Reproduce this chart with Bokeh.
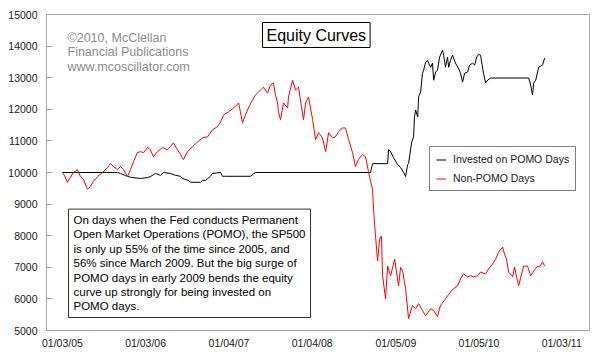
import pandas as pd
from bokeh.plotting import figure
from bokeh.models import (Range1d, FixedTicker, DatetimeTickFormatter, Label,
                          Legend, LegendItem, ColumnDataSource)
from bokeh.embed import file_html
from bokeh.resources import INLINE

# ---------------- data ----------------
red_dates = [
    "2005-01-03", "2005-01-12", "2005-01-25", "2005-02-07", "2005-02-20", "2005-03-10",
    "2005-03-23", "2005-04-05", "2005-04-23", "2005-05-06", "2005-05-19", "2005-06-06",
    "2005-06-28", "2005-07-20", "2005-08-02", "2005-08-15", "2005-09-02", "2005-09-15",
    "2005-09-28", "2005-10-15", "2005-10-29", "2005-11-11", "2005-11-28", "2005-12-11",
    "2005-12-25", "2006-01-11", "2006-01-24", "2006-02-06", "2006-02-24", "2006-03-18",
    "2006-04-09", "2006-04-22", "2006-05-05", "2006-05-23", "2006-06-05", "2006-06-18",
    "2006-07-06", "2006-07-28", "2006-08-19", "2006-09-10", "2006-10-02", "2006-10-23",
    "2006-11-14", "2006-11-28", "2006-12-11", "2007-01-02", "2007-01-24", "2007-02-15",
    "2007-02-23", "2007-03-04", "2007-03-17", "2007-03-30", "2007-04-17", "2007-04-30",
    "2007-05-22", "2007-06-04", "2007-06-22", "2007-07-05", "2007-07-18", "2007-07-27",
    "2007-08-05", "2007-08-09", "2007-08-18", "2007-08-31", "2007-09-18", "2007-09-22",
    "2007-10-10", "2007-10-23", "2007-11-05", "2007-11-18", "2007-11-27", "2007-12-06",
    "2007-12-19", "2008-01-06", "2008-01-19", "2008-02-01", "2008-02-18", "2008-03-03",
    "2008-03-16", "2008-04-02", "2008-04-15", "2008-04-29", "2008-05-16", "2008-05-29",
    "2008-06-12", "2008-06-29", "2008-07-12", "2008-07-25", "2008-08-12", "2008-08-25",
    "2008-09-07", "2008-09-16", "2008-09-25", "2008-09-29", "2008-10-08", "2008-10-17",
    "2008-10-26", "2008-11-03", "2008-11-08", "2008-11-21", "2008-11-30", "2008-12-13",
    "2008-12-31", "2009-01-17", "2009-01-26", "2009-02-04", "2009-02-17", "2009-03-02",
    "2009-03-19", "2009-04-02", "2009-04-15", "2009-05-02", "2009-05-16", "2009-06-07",
    "2009-06-20", "2009-07-07", "2009-07-20", "2009-08-11", "2009-09-02", "2009-09-15",
    "2009-10-03", "2009-10-16", "2009-10-29", "2009-11-16", "2009-11-29", "2009-12-12",
    "2009-12-30", "2010-01-12", "2010-02-03", "2010-02-16", "2010-03-06", "2010-03-19",
    "2010-04-01", "2010-04-19", "2010-04-27", "2010-05-06", "2010-05-15", "2010-06-02",
    "2010-06-10", "2010-06-23", "2010-06-28", "2010-07-11", "2010-07-20", "2010-08-06",
    "2010-08-20", "2010-09-02", "2010-09-19", "2010-09-28", "2010-10-11", "2010-10-20",
]
red_values = [
    10000, 9900, 9690, 9850, 10000, 10090,
    9870, 9780, 9465, 9560, 9720, 9870,
    10000, 10160, 10280, 10190, 10090, 10190,
    10090, 9870, 10090, 10350, 10630, 10660,
    10630, 10790, 10720, 10500, 10660, 10790,
    10720, 10820, 10940, 10720, 10570, 10410,
    10660, 10820, 10970, 11100, 11130, 11350,
    11450, 11600, 11820, 11920, 12040, 12200,
    11920, 11570, 11820, 12040, 12300, 12450,
    12610, 12700, 12510, 12770, 12830, 12450,
    12200, 11920, 11670, 12200, 12040, 12390,
    12920, 12610, 12700, 12080, 11670, 12200,
    12390, 11670, 11040, 11260, 11100, 10660,
    11260, 11100, 11130, 11290, 11410, 11410,
    11040, 10630, 10190, 10410, 10570, 10500,
    10030, 9720, 9470, 8840, 7990, 7200,
    7890, 7990, 6730, 6000, 7040, 6730,
    7260, 6410, 7000, 6880, 6320, 5380,
    5790, 5690, 5850, 5630, 5470, 5690,
    5630, 5440, 5790, 6000, 6220, 6320,
    6410, 6630, 6790, 6700, 6730, 6700,
    6730, 6850, 6790, 6950, 7110, 7260,
    7480, 7640, 7420, 7260, 6850, 6700,
    7010, 6570, 6410, 6790, 7040, 7040,
    6730, 6880, 7040, 7010, 7170, 7040,
]

black_dates = [
    "2005-01-03", "2005-09-02", "2005-09-15", "2005-10-07", "2005-10-29", "2005-12-11",
    "2006-01-11", "2006-01-24", "2006-02-15", "2006-03-09", "2006-03-22", "2006-04-22",
    "2006-05-14", "2006-06-05", "2006-06-14", "2006-07-10", "2006-07-19", "2006-09-01",
    "2006-09-10", "2006-09-23", "2006-10-15", "2006-10-23", "2006-11-28", "2006-12-06",
    "2006-12-20", "2007-04-08", "2007-04-30", "2008-09-16", "2008-09-25", "2008-11-30",
    "2008-12-04", "2008-12-13", "2008-12-26", "2009-01-13", "2009-01-26", "2009-02-08",
    "2009-02-17", "2009-02-26", "2009-03-02", "2009-03-15", "2009-03-24", "2009-03-28",
    "2009-04-02", "2009-04-11", "2009-04-15", "2009-04-24", "2009-05-02", "2009-05-07",
    "2009-05-16", "2009-05-24", "2009-05-29", "2009-06-07", "2009-06-15", "2009-06-20",
    "2009-06-29", "2009-07-07", "2009-07-16", "2009-07-29", "2009-08-03", "2009-08-11",
    "2009-08-20", "2009-08-25", "2009-09-02", "2009-09-11", "2009-09-24", "2009-10-07",
    "2009-10-16", "2009-10-25", "2009-11-03", "2009-11-16", "2009-11-25", "2009-12-08",
    "2009-12-17", "2009-12-26", "2010-01-03", "2010-01-12", "2010-01-21", "2010-01-25",
    "2010-02-03", "2010-02-12", "2010-02-25", "2010-08-11", "2010-08-20", "2010-08-28",
    "2010-09-02", "2010-09-11", "2010-09-19", "2010-09-24", "2010-10-11", "2010-10-20",
]
black_values = [
    10000, 10000, 9970, 9900, 9850, 9810,
    9840, 9870, 9970, 9910, 10000, 9970,
    9910, 9880, 9810, 9750, 9690, 9690,
    9750, 9750, 9880, 9970, 10000, 9880,
    9880, 9880, 10000, 10000, 10280, 10280,
    10720, 10660, 10470, 10250, 10160, 10000,
    9870, 10250, 10280, 10940, 11130, 11760,
    11980, 11760, 12390, 12550, 13140, 13240,
    13490, 13550, 13460, 13330, 13460, 12920,
    13180, 13240, 13650, 13870, 13710, 13330,
    13650, 13330, 13550, 13710, 13460, 13300,
    13140, 12860, 13140, 13180, 13400, 13460,
    13400, 13650, 13740, 13710, 13300, 13140,
    12830, 12920, 12990, 12990, 12770, 12450,
    12830, 12920, 13180, 13330, 13400, 13620,
]

tick_dates = ["2005-01-03", "2006-01-03", "2007-01-04", "2008-01-04",
              "2009-01-05", "2010-01-05", "2011-01-03"]
y_ticks = [5000, 6000, 7000, 8000, 9000, 10000, 11000, 12000, 13000, 14000, 15000]

series_names = ["Invested on POMO Days", "Non-POMO Days"]
title_text = "Equity Curves"
credit_lines = ["\u00a92010, McClellan", "Financial Publications", "www.mcoscillator.com"]
note_lines = [
    "On days when the Fed conducts Permanent",
    "Open Market Operations (POMO), the SP500",
    "is only up 55% of the time since 2005, and",
    "56% since March 2009.  But the big surge of",
    "POMO days in early 2009 bends the equity",
    "curve up strongly for being invested on",
    "POMO days.",
]

# ---------------- figure ----------------
FONT = "Liberation Sans"
red_src = ColumnDataSource(dict(x=pd.to_datetime(red_dates), y=red_values))
blk_src = ColumnDataSource(dict(x=pd.to_datetime(black_dates), y=black_values))

p = figure(width=592, height=351, x_axis_type="datetime",
           x_range=Range1d(pd.Timestamp("2004-10-25"), pd.Timestamp("2011-05-05")),
           y_range=Range1d(5000, 15000),
           output_backend="svg", toolbar_location=None,
           min_border_left=46, min_border_right=3, min_border_top=14, min_border_bottom=19)

p.background_fill_color = "#ffffff"
p.border_fill_color = "#ffffff"
p.outline_line_color = "#a6a6a6"
p.outline_line_width = 1
p.xgrid.visible = False
p.ygrid.visible = False

tick_ms = [pd.Timestamp(d).value // 10**6 for d in tick_dates]
p.xaxis.ticker = FixedTicker(ticks=tick_ms)
fmt = "%m/%d/%y"
p.xaxis.formatter = DatetimeTickFormatter(
    milliseconds=fmt, seconds=fmt, minsec=fmt, minutes=fmt, hourmin=fmt,
    hours=fmt, days=fmt, months=fmt, years=fmt)
p.yaxis.ticker = FixedTicker(ticks=y_ticks)

for ax in (p.xaxis[0], p.yaxis[0]):
    ax.axis_line_color = "#a6a6a6"
    ax.major_tick_line_color = "#a6a6a6"
    ax.minor_tick_line_color = None
    ax.major_label_text_font = FONT
    ax.major_label_text_font_size = "10.5px"
    ax.major_label_text_color = "#1a1a1a"

p.xaxis.major_tick_in = 0
p.xaxis.major_tick_out = 0
p.xaxis.major_label_standoff = 6
p.yaxis.major_tick_in = 6
p.yaxis.major_tick_out = 0
p.yaxis.major_label_standoff = 9

r_blk = p.line("x", "y", source=blk_src, line_color="#000000", line_width=1)
r_red = p.line("x", "y", source=red_src, line_color="#ff0000", line_width=1)

legend = Legend(items=[LegendItem(label=series_names[0], renderers=[r_blk]),
                       LegendItem(label=series_names[1], renderers=[r_red])],
                location=(383, 139), orientation="vertical")
legend.label_text_font = FONT
legend.label_text_font_size = "10.5px"
legend.label_text_color = "#1a1a1a"
legend.glyph_width = 10
legend.glyph_height = 11
legend.label_height = 11
legend.label_standoff = 7
legend.padding = 6
legend.spacing = 7
legend.margin = 0
legend.border_line_color = "#000000"
legend.border_line_width = 1
legend.background_fill_color = "#ffffff"
legend.background_fill_alpha = 1
p.add_layout(legend, "center")

title = Label(x=216, y=283, x_units="screen", y_units="screen", text=title_text,
              text_font=FONT, text_font_size="16px", text_color="#000000",
              border_line_color="#000000", border_line_width=1,
              background_fill_color="#ffffff", padding=4)
p.add_layout(title)

for i, line in enumerate(credit_lines):
    p.add_layout(Label(x=21, y=293 - i * 14.5, x_units="screen", y_units="screen",
                       text=line, text_font=FONT, text_font_size="12.5px",
                       text_color="#8c8c8c", text_baseline="middle"))

note = Label(x=22, y=13, x_units="screen", y_units="screen",
             text="\n".join(note_lines), text_font=FONT, text_font_size="11.5px",
             text_color="#000000", text_line_height=1.2,
             border_line_color="#333333", border_line_width=1,
             background_fill_color="#ffffff", padding=5)
p.add_layout(note)

open("out.html", "w").write(file_html(p, INLINE))
